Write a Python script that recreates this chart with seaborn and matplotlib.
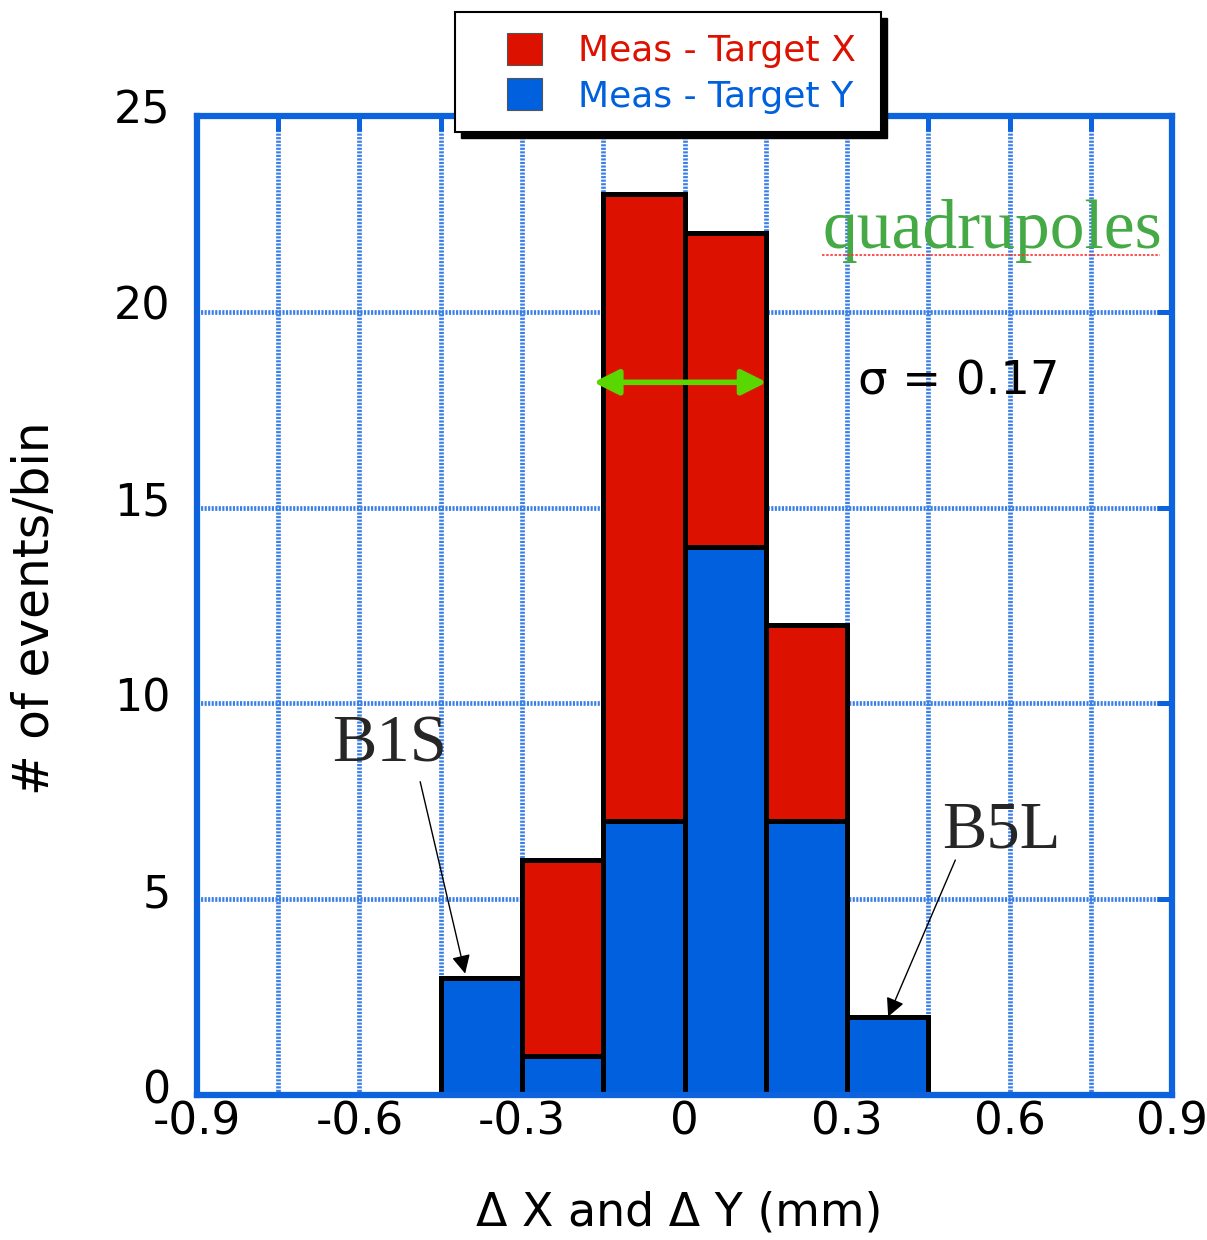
import numpy as np
import pandas as pd
import matplotlib
matplotlib.use("Agg")
import matplotlib.pyplot as plt
import seaborn as sns
from matplotlib.patches import Rectangle
from matplotlib.ticker import MultipleLocator
from matplotlib.transforms import ScaledTranslation

# ---------------- data ----------------
bin_edges = [-0.45, -0.30, -0.15, 0.0, 0.15, 0.30, 0.45]
counts_x = [0, 5, 16, 8, 5, 0]      # Meas - Target X (stacked on top)
counts_y = [3, 1, 7, 14, 7, 2]      # Meas - Target Y (bottom)
series_names = ["Meas - Target X", "Meas - Target Y"]
x_ticks = [-0.9, -0.6, -0.3, 0.0, 0.3, 0.6, 0.9]
x_tick_labels = ["-0.9", "-0.6", "-0.3", "0", "0.3", "0.6", "0.9"]
y_ticks = [0, 5, 10, 15, 20, 25]
y_tick_labels = ["0", "5", "10", "15", "20", "25"]

RED = "#dd1100"
BLUE = "#0060dd"
AXBLUE = "#0d63de"
GRIDBLUE = "#3a7fe6"
GREEN_ARROW = "#5ad600"
GREEN_TEXT = "#45aa45"

centers = (np.array(bin_edges[:-1]) + np.array(bin_edges[1:])) / 2
df = pd.DataFrame({
    "dx": np.concatenate([centers, centers]),
    "count": counts_x + counts_y,
    "series": [series_names[0]] * len(centers) + [series_names[1]] * len(centers),
})

sns.set_style("white")
plt.rcParams["font.family"] = ["DejaVu Sans"]

W, H = 1207, 1240
fig = plt.figure(figsize=(W / 100, H / 100), dpi=100)
ax = fig.add_axes([197 / W, 1 - 1095 / H, 975 / W, 979 / H])

sns.histplot(
    data=df, x="dx", weights="count", hue="series", hue_order=series_names,
    multiple="stack", bins=bin_edges, palette={series_names[0]: RED, series_names[1]: BLUE},
    alpha=1, edgecolor="black", linewidth=3.6, ax=ax, legend=False, zorder=3,
)

ax.set_xlim(-0.9, 0.9)
ax.set_ylim(0, 25)
ax.set_xticks(x_ticks)
ax.set_xticklabels(x_tick_labels)
ax.xaxis.set_minor_locator(MultipleLocator(0.15))
ax.set_yticks(y_ticks)
ax.set_yticklabels(y_tick_labels)

ax.set_axisbelow(True)
ax.grid(True, which="both", axis="x", color=GRIDBLUE, linewidth=3.4, linestyle=(0, (0.45, 0.3)))
ax.grid(True, which="major", axis="y", color=GRIDBLUE, linewidth=3.4, linestyle=(0, (0.45, 0.3)))

for s in ax.spines.values():
    s.set_color(AXBLUE)
    s.set_linewidth(4.5)
    s.set_visible(True)
    s.set_zorder(4)

ax.tick_params(axis="both", which="both", direction="in", top=True, right=True,
               color=AXBLUE, width=3.6, length=11, labelcolor="black")
ax.tick_params(axis="x", which="both", pad=4, labelsize=32.5)
ax.tick_params(axis="y", which="both", pad=19, labelsize=32)
# y tick labels sit slightly above their gridlines in the reference
for lab in ax.get_yticklabels():
    lab.set_transform(lab.get_transform() + ScaledTranslation(0, 9 / 100, fig.dpi_scale_trans))

ax.set_xlabel("Δ X and Δ Y (mm)", fontsize=33, color="black")
ax.xaxis.set_label_coords(0.495, -0.098)
ax.set_ylabel("# of events/bin", fontsize=35, color="black")
ax.yaxis.set_label_coords(-0.142, 0.497)

# annotations
ax.annotate("", xy=(-0.168, 18.2), xytext=(0.152, 18.2),
            arrowprops=dict(arrowstyle="<|-|>", color=GREEN_ARROW, lw=4, mutation_scale=38,
                            shrinkA=0, shrinkB=0), zorder=6)
ax.text(0.32, 18.2, "σ = 0.17", fontsize=33.5, ha="left", va="center", color="black", zorder=6)
ax.text(0.882, 21.63, "quadrupoles", fontsize=50, ha="right", va="baseline", color=GREEN_TEXT,
        family="Liberation Serif", zorder=6)
ax.plot([0.253, 0.877], [21.45, 21.45], color="#ff3333", lw=1.2, linestyle=(0, (1.5, 1.0)), zorder=6)

ax.text(-0.545, 8.95, "B1S", fontsize=48, ha="center", va="center", family="Liberation Serif", zorder=6)
ax.annotate("", xy=(-0.405, 3.1), xytext=(-0.488, 8.0),
            arrowprops=dict(arrowstyle="-|>", color="black", lw=1.0, mutation_scale=28,
                            shrinkA=0, shrinkB=0), zorder=6)
ax.text(0.585, 6.75, "B5L", fontsize=48, ha="center", va="center", family="Liberation Serif", zorder=6)
ax.annotate("", xy=(0.376, 2.0), xytext=(0.50, 6.0),
            arrowprops=dict(arrowstyle="-|>", color="black", lw=1.0, mutation_scale=28,
                            shrinkA=0, shrinkB=0), zorder=6)

# legend box with black shadow
fig.patches.append(Rectangle((461 / W, 1 - 138 / H), 426 / W, 120 / H, transform=fig.transFigure,
                             facecolor="black", edgecolor="black", zorder=2))
fig.patches.append(Rectangle((455 / W, 1 - 132 / H), 426 / W, 120 / H, transform=fig.transFigure,
                             facecolor="white", edgecolor="black", linewidth=1.5, zorder=3))
handles = [Rectangle((0, 0), 1, 1, facecolor=RED, edgecolor="#555555", linewidth=0.8),
           Rectangle((0, 0), 1, 1, facecolor=BLUE, edgecolor="#555555", linewidth=0.8)]
fig.legend(handles, series_names, loc="upper left", bbox_to_anchor=(507 / W, 1 - 33 / H),
           bbox_transform=fig.transFigure, frameon=False, fontsize=26, labelcolor=[RED, BLUE],
           handlelength=0.97, handleheight=0.97, handletextpad=1.0, labelspacing=0.28,
           borderpad=0, borderaxespad=0)

fig.savefig("out.png", dpi=100)
